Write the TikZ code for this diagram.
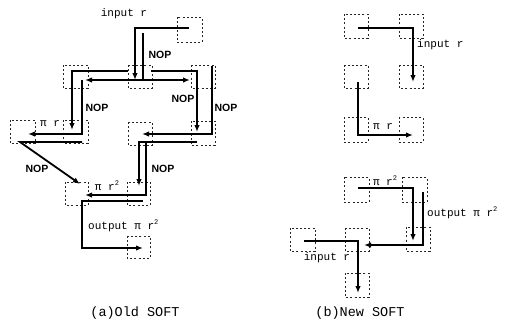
\documentclass[tikz,border=0pt]{standalone}
\usepackage{fontspec}
\setmainfont{Liberation Mono}
\setmonofont{Liberation Mono}
\newfontfamily\nopfont{Liberation Sans}
\usetikzlibrary{arrows.meta}
\newcommand{\sqtwo}{\raisebox{0.9ex}{\fontsize{7}{7}\selectfont 2}}
\begin{document}
\begin{tikzpicture}[x=1pt,y=-1pt,
  cell/.style={draw=black!85,line width=0.9pt,dash pattern=on 2pt off 2.2pt},
  wire/.style={line width=1.8pt,black},
  awire/.style={wire,-{Latex[length=7pt,width=5.5pt]}},
  lbl/.style={font=\fontsize{11}{11}\selectfont\ttfamily,inner sep=0pt},
  nop/.style={font=\fontsize{10.5}{10.5}\selectfont\nopfont\bfseries,inner sep=0pt},
  captext/.style={font=\fontsize{13.5}{13.5}\selectfont\ttfamily,inner sep=0pt}]
\useasboundingbox (0,0) rectangle (509,322);
% ---------- (a) Old SOFT : cells ----------
\foreach \a/\b/\c/\d in {177/17/202/42, 63/65/88/88, 128/65/152/88, 191/65/215/88,
  10/120/35/143, 63/120/88/143, 128/122/152/145, 191/121/215/145,
  65/182/88/205, 127/182/150/205, 127/236/150/258}
  \draw[cell] (\a,\b) rectangle (\c,\d);
% ---------- (a) wires ----------
\draw[awire] (189,28) -- (135,28) -- (135,80);
\draw[wire] (143,33) -- (143,80);
\draw[wire,{Latex[length=7pt,width=5.5pt]}-{Latex[length=7pt,width=5.5pt]}] (85,80) -- (190,80);
\draw[awire] (128,71) -- (72,71) -- (72,130);
\draw[awire] (151,71) -- (197,71) -- (197,132);
\draw[awire] (82,80) -- (82,134) -- (28,134);
\draw[awire] (82,142) -- (20,142) -- (80,184);
\draw[awire] (212,66) -- (212,134) -- (142,134);
\draw[awire] (197,142) -- (139,142) -- (139,186);
\draw[awire] (146,142) -- (146,195) -- (85,195);
\draw[awire] (143,201) -- (82,201) -- (82,248) -- (143,248);
% ---------- (a) labels ----------
\node[lbl] (ain) at (124,14) {input r};
\node[nop] (n1) at (160,55) {NOP};
\node[nop] (n2) at (97,108) {NOP};
\node[nop] (n3) at (183,99) {NOP};
\node[nop] (n4) at (226,108) {NOP};
\node[nop] (n5) at (37,169) {NOP};
\node[nop] (n6) at (163,169) {NOP};
\node[lbl,fill=white,inner sep=1pt] (apr) at (50,124) {π r};
\node[lbl,fill=white,inner sep=1pt] (apr2) at (107,186) {π r\sqtwo};
\node[lbl,anchor=west] (aout) at (88,226) {output π r\sqtwo};
\node[captext] (capa) at (135,313) {(a)Old SOFT};
% ---------- (b) New SOFT : cells ----------
\foreach \a/\b/\c/\d in {344/14/368/38, 399/14/423/38, 344/65/368/88, 399/65/423/88,
  344/117/368/142, 399/117/423/142, 344/177/369/202, 402/177/427/202,
  290/228/315/251, 345/228/369/251, 406/227/430/251, 345/273/369/297}
  \draw[cell] (\a,\b) rectangle (\c,\d);
% ---------- (b) wires ----------
\draw[awire] (358,28) -- (413,28) -- (413,82);
\draw[awire] (358,82) -- (358,135) -- (413,135);
\draw[awire] (358,188) -- (413,188) -- (413,241);
\draw[awire] (423,192) -- (423,245) -- (364,245);
\draw[awire] (304,241) -- (358,241) -- (358,293);
% ---------- (b) labels ----------
\node[lbl,anchor=west] (bin1) at (417,45) {input r};
\node[lbl,fill=white,inner sep=1pt] (bpr) at (383,127) {π r};
\node[lbl,fill=white,inner sep=1pt] (bpr2) at (385,181) {π r\sqtwo};
\node[lbl,anchor=west] (bout) at (427,213) {output π r\sqtwo};
\node[lbl] (bin2) at (327,258) {input r};
\node[captext] (capb) at (360,313) {(b)New SOFT};
\end{tikzpicture}
\end{document}
